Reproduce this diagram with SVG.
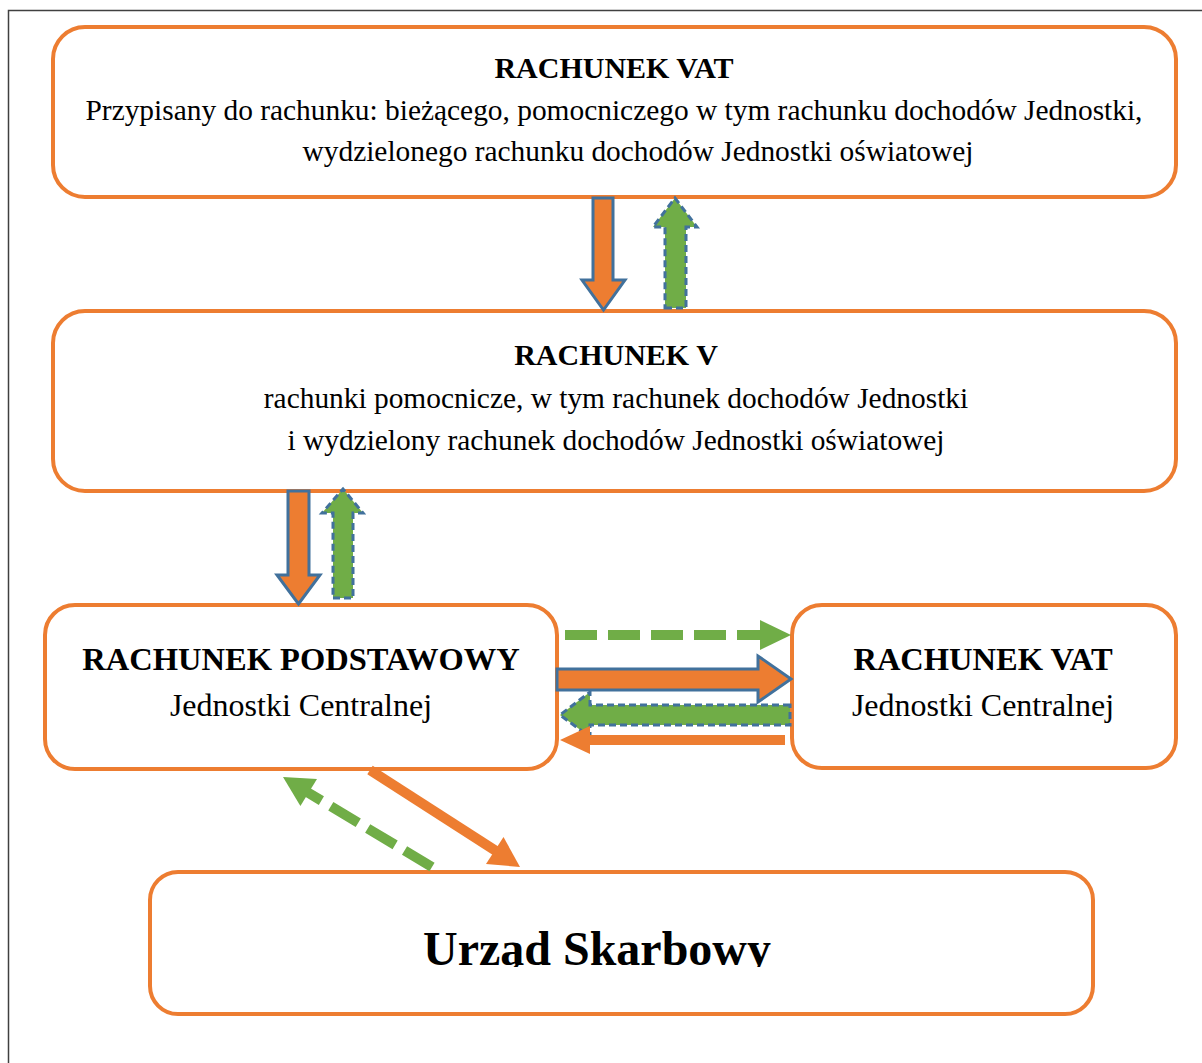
<svg xmlns="http://www.w3.org/2000/svg" width="1202" height="1063" viewBox="0 0 1202 1063">
<style>
.box{fill:#fff;stroke:#ED7D31;stroke-width:4}
.t{font-family:"Liberation Serif","Times New Roman",serif;fill:#000;text-anchor:middle}
.b{font-weight:bold;font-size:30px}
.r{font-size:29.4px}
.b2{font-weight:bold;font-size:32.5px}
.r2{font-size:32px}
.oblk{fill:#ED7D31;stroke:#41719C;stroke-width:3;stroke-linejoin:miter}
.gblk{fill:#70AD47;stroke:#41719C;stroke-width:3;stroke-dasharray:7 4}
.oln{stroke:#ED7D31;stroke-width:10;fill:none}
.gln{stroke:#70AD47;stroke-width:10;fill:none;stroke-dasharray:32 11}
.oh{fill:#ED7D31}
.gh{fill:#70AD47}
</style>
<defs>
<clipPath id="clipUS"><rect x="150" y="872" width="943" height="95"/></clipPath>
</defs>
<rect x="0" y="0" width="1202" height="1063" fill="#fff"/>
<rect x="8.5" y="10.5" width="1210" height="1070" fill="none" stroke="#404040" stroke-width="1.5"/>

<g id="node-vat-top">
<rect class="box" x="53" y="27" width="1123" height="170" rx="32"/>
<text class="t b" x="614" y="78">RACHUNEK VAT</text>
<text class="t r" x="614" y="120">Przypisany do rachunku: bieżącego, pomocniczego w tym rachunku dochodów Jednostki,</text>
<text class="t r" x="638" y="161">wydzielonego rachunku dochodów Jednostki oświatowej</text>
</g>

<g id="node-v">
<rect class="box" x="53" y="311" width="1123" height="180" rx="32"/>
<text class="t b" x="616" y="365">RACHUNEK V</text>
<text class="t r" x="616" y="408">rachunki pomocnicze, w tym rachunek dochodów Jednostki</text>
<text class="t r" x="616" y="450">i wydzielony rachunek dochodów Jednostki oświatowej</text>
</g>

<g id="node-podstawowy">
<rect class="box" x="45" y="605" width="512" height="164" rx="30"/>
<text class="t b2" x="301" y="670">RACHUNEK PODSTAWOWY</text>
<text class="t r2" x="301" y="716">Jednostki Centralnej</text>
</g>

<g id="node-vat-central">
<rect class="box" x="792" y="605" width="384" height="163" rx="30"/>
<text class="t b2" x="983" y="670">RACHUNEK VAT</text>
<text class="t r2" x="983" y="716">Jednostki Centralnej</text>
</g>

<g id="node-urzad">
<rect class="box" x="150" y="872" width="943" height="142" rx="28"/>
<text class="t" x="597" y="965" font-weight="bold" font-size="48" clip-path="url(#clipUS)">Urząd Skarbowy</text>
</g>

<g id="connectors">
<path class="oblk" d="M593,198 L613,198 L613,280 L625,280 L603.5,310 L582,280 L593,280 Z"/>
<path class="gblk" d="M665,308 L686,308 L686,227 L697,227 L675,198 L653,227 L665,227 Z"/>
<path class="oblk" d="M288,491 L309,491 L309,575 L320,575 L298.5,604 L277,575 L288,575 Z"/>
<path class="gblk" d="M333,598 L353,598 L353,513 L363,513 L343,489 L322,513 L333,513 Z"/>

<line class="gln" x1="565" y1="635" x2="760" y2="635"/>
<polygon class="gh" points="760,620 791,635 760,650"/>
<path class="oblk" d="M557,669 L758,669 L758,656 L791,679 L758,702 L758,690 L557,690 Z"/>
<path class="gblk" d="M790,705 L590,705 L590,692 L560,715 L590,737 L590,725 L790,725 Z"/>
<line class="oln" x1="785" y1="740" x2="588" y2="740"/>
<polygon class="oh" points="590,726 560,740 590,754"/>

<line class="oln" x1="370" y1="770" x2="496" y2="851"/>
<polygon class="oh" points="486,864 520,867 503.5,837"/>
<line class="gln" x1="432" y1="867" x2="307" y2="792"/>
<polygon class="gh" points="317,779 283,777 300.4,806"/>
</g>
</svg>
